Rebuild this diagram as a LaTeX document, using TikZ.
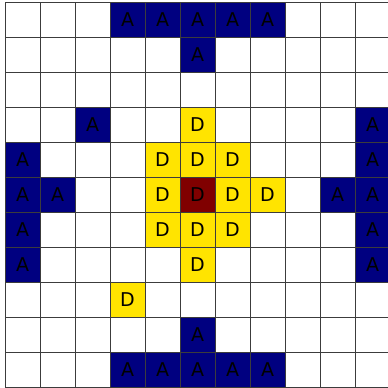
\documentclass[tikz,border=0pt]{standalone}
\usepackage{fontspec}
\setmainfont{DejaVu Sans}
\definecolor{navyc}{RGB}{0,0,128}
\definecolor{goldc}{RGB}{255,228,0}
\definecolor{maroonc}{RGB}{128,0,0}
\definecolor{gridc}{RGB}{60,60,60}
\begin{document}
\begin{tikzpicture}[x=1pt,y=-1pt,
  cell/.style={draw=gridc, line width=1pt, minimum size=35pt, inner sep=0pt, outer sep=0pt, anchor=center, font=\fontsize{19}{19}\selectfont},
  acell/.style={cell, fill=navyc, text=black},
  dcell/.style={cell, fill=goldc, text=black},
  rcell/.style={cell, fill=maroonc, text=black}]
\useasboundingbox (0,0) rectangle (388,388);
\clip (0,0) rectangle (388,388);
\fill[white] (0,0) rectangle (388,388);
\foreach \r in {0,...,10}
  \foreach \c in {0,...,10}
    \node[cell] (w-\r-\c) at ({22.5+35*\c},{19.5+35*\r}) {};
\foreach \r/\c in {0/3,0/4,0/5,0/6,0/7,1/5,3/2,3/10,4/0,4/10,5/0,5/1,5/9,5/10,6/0,6/10,7/0,7/10,9/5,10/3,10/4,10/5,10/6,10/7}
  \node[acell] (a-\r-\c) at ({22.5+35*\c},{19.5+35*\r}) {A};
\foreach \r/\c in {3/5,4/4,4/5,4/6,5/4,5/6,5/7,6/4,6/5,6/6,7/5,8/3}
  \node[dcell] (d-\r-\c) at ({22.5+35*\c},{19.5+35*\r}) {D};
\node[rcell] (r-5-5) at ({22.5+35*5},{19.5+35*5}) {D};
\end{tikzpicture}
\end{document}
